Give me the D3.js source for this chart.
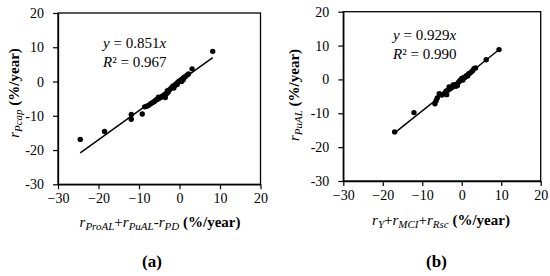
<!DOCTYPE html>
<html>
<head>
<meta charset="utf-8">
<script src="https://cdn.jsdelivr.net/npm/d3@7"></script>
<style>
body { margin: 0; background: #fff; }
text { font-family: "Liberation Serif", "Times New Roman", serif; fill: #000; }
</style>
</head>
<body>
<svg width="550" height="276"></svg>
<script>
// axis ticks shared by both panels
var ticks = [-30, -20, -10, 0, 10, 20];

// panel (a): rPcap vs rProAL + rPuAL - rPD
var aX = [-24.5, -18.5, -11.9, -11.9, -9.2, -8.6, -8.1, -7.6, -7.1, -6.6, -6.2, -5.8, -5.4, -5.0, -4.6,
          -4.2, -3.8, -3.5, -3.2, -2.8, -2.4, -2.0, -1.6, -1.2, -1.0, -0.8, -0.4, -0.1, 0.3, 0.6,
          1.0, 1.4, 1.8, 2.2, 3.1, 8.2, -1.4, 0.5, -5.2, -3.0, -0.6, 0.9];
var aY = [-16.9, -14.6, -9.6, -11.0, -9.5, -7.4, -7.2, -6.9, -6.5, -6.1, -5.8, -5.4, -5.2, -4.9, -4.6,
          -4.4, -4.0, -4.7, -3.6, -3.1, -2.3, -1.8, -1.3, -1.2, -0.9, -0.6, -0.2, 0.1, 0.4, 0.7,
          1.1, 1.4, 1.8, 2.2, 3.7, 8.8, -1.9, 0.0, -4.6, -2.7, -0.9, 0.5];
var aSlope = 0.851, aR2 = "0.967", aFitX = [-24.5, 8.2];

// panel (b): rPuAL vs rY + rMCI + rRsc
var bX = [-17.0, -12.1, -6.8, -6.5, -6.2, -5.7, -5.0, -4.5, -4.0, -3.8, -3.5, -3.2, -3.0, -2.5, -2.0,
          -1.6, -1.5, -1.1, -0.8, -0.5, -0.2, 0.2, 0.3, 0.5, 0.8, 1.1, 1.4, 1.7, 2.0, 2.4,
          2.8, 3.1, 3.5, 6.2, 9.45, -2.2, 0.0, 1.5];
var bY = [-15.5, -9.8, -7.2, -6.3, -5.5, -4.2, -4.6, -4.2, -3.5, -4.5, -3.2, -2.2, -2.8, -2.4, -1.9,
          -1.5, -2.0, -1.8, -0.8, -0.4, -0.2, 0.2, -0.2, 0.5, 0.6, 1.0, 1.2, 1.6, 1.8, 2.2,
          2.6, 3.2, 3.4, 5.8, 8.8, -1.6, 0.3, 1.0];
var bSlope = 0.929, bR2 = "0.990", bFitX = [-17.0, 9.9];

var svg = d3.select("svg");

function panel(opt) {
	var x = d3.scaleLinear().domain([-30, 20]).range([opt.left, opt.right]);
	var y = d3.scaleLinear().domain([-30, 20]).range([opt.bottom, opt.top]);
	var g = svg.append("g");

	// frame
	g.append("rect")
		.attr("x", opt.left).attr("y", opt.top)
		.attr("width", opt.right - opt.left).attr("height", opt.bottom - opt.top)
		.attr("fill", "none").attr("stroke", "#000").attr("stroke-width", 1.3);

	var xAxis = g.append("g")
		.attr("transform", "translate(0," + opt.bottom + ")")
		.call(d3.axisBottom(x).tickValues(ticks).tickSize(5).tickPadding(4).tickSizeOuter(0));
	var yAxis = g.append("g")
		.attr("transform", "translate(" + opt.left + ",0)")
		.call(d3.axisLeft(y).tickValues(ticks).tickSize(5).tickPadding(9).tickSizeOuter(0)
			.tickFormat(function(d) { return String(d); }));
	[xAxis, yAxis].forEach(function(ax) {
		ax.attr("font-family", null);
		ax.select(".domain").attr("stroke-width", 1.3);
		ax.selectAll(".tick line").attr("stroke-width", 1.2);
		ax.selectAll("text").style("font-size", "14px").attr("fill", "#000");
	});

	// fit line
	g.append("line")
		.attr("x1", x(opt.fitX[0])).attr("y1", y(opt.slope * opt.fitX[0]))
		.attr("x2", x(opt.fitX[1])).attr("y2", y(opt.slope * opt.fitX[1]))
		.attr("stroke", "#000").attr("stroke-width", 1.5);

	// points
	g.selectAll(".pt")
		.data(opt.xs.map(function(v, i) { return [v, opt.ys[i]]; }))
		.enter().append("circle")
		.attr("cx", function(d) { return x(d[0]); })
		.attr("cy", function(d) { return y(d[1]); })
		.attr("r", 2.7)
		.attr("fill", "#000");

	// equation
	var eq = g.append("text").attr("x", opt.eqX).attr("y", opt.eqY).style("font-size", "15px");
	eq.append("tspan").style("font-style", "italic").text("y");
	eq.append("tspan").text(" = " + opt.slope);
	eq.append("tspan").style("font-style", "italic").text("x");
	var r2 = g.append("text").attr("x", opt.eqX).attr("y", opt.eqY + 19).style("font-size", "15px");
	r2.append("tspan").style("font-style", "italic").text("R");
	r2.append("tspan").text("² = " + opt.r2);

	// x title
	var xt = g.append("text")
		.attr("x", opt.xTitleX).attr("y", opt.xTitleY)
		.attr("text-anchor", "middle").style("font-size", "15px");
	opt.xParts.forEach(function(p) {
		xt.append("tspan").style("font-style", "italic").text("r");
		xt.append("tspan").style("font-style", "italic").style("font-size", "11px").attr("dy", 3).text(p[0]);
		xt.append("tspan").attr("dy", -3).text(p[1]);
	});
	xt.append("tspan").style("font-weight", "bold").text("(%/year)");

	// y title
	var yt = g.append("text")
		.attr("transform", "translate(" + opt.yTitleX + "," + opt.yTitleY + ") rotate(-90)")
		.attr("text-anchor", "middle").style("font-size", "15px");
	yt.append("tspan").style("font-style", "italic").text("r");
	yt.append("tspan").style("font-style", "italic").style("font-size", "11px").attr("dy", 3).text(opt.yPart);
	yt.append("tspan").attr("dy", -3).text(" ");
	yt.append("tspan").style("font-weight", "bold").text("(%/year)");

	// panel label
	g.append("text")
		.attr("x", opt.labelX).attr("y", 267)
		.attr("text-anchor", "middle")
		.style("font-size", "17px").style("font-weight", "bold")
		.text(opt.label);
}

panel({
	left: 58, right: 260.5, top: 13, bottom: 184.3,
	xs: aX, ys: aY, slope: aSlope, r2: aR2, fitX: aFitX,
	eqX: 103, eqY: 48,
	xTitleX: 160, xTitleY: 227,
	xParts: [["ProAL", "+"], ["PuAL", "-"], ["PD", " "]],
	yTitleX: 19, yTitleY: 93, yPart: "Pcap",
	labelX: 152, label: "(a)"
});

panel({
	left: 343.3, right: 540.7, top: 11.7, bottom: 181,
	xs: bX, ys: bY, slope: bSlope, r2: bR2, fitX: bFitX,
	eqX: 393, eqY: 40,
	xTitleX: 441, xTitleY: 225,
	xParts: [["Y", "+"], ["MCI", "+"], ["Rsc", " "]],
	yTitleX: 299, yTitleY: 95, yPart: "PuAL",
	labelX: 436.5, label: "(b)"
});
</script>
</body>
</html>
